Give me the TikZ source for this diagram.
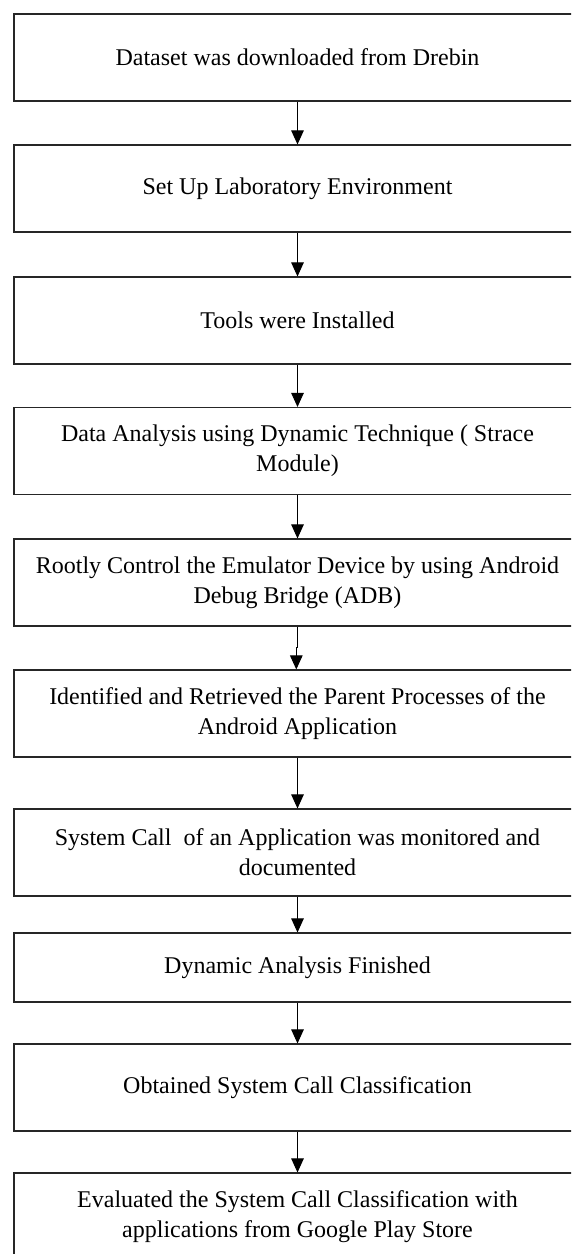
\documentclass[tikz,border=0pt]{standalone}
\usepackage{fontspec}
\setmainfont{Liberation Serif}
\usetikzlibrary{arrows.meta}
\begin{document}
\begin{tikzpicture}[x=1pt,y=-1pt,
  stepbox/.style={draw=black!85,line width=1.1pt,rectangle,minimum width=567pt,minimum height=87pt,align=center,inner sep=0pt,font=\fontsize{24}{30}\selectfont},
  flow/.style={draw=black,line width=1pt,-{Triangle[length=14pt,width=12.5pt]}}]
\useasboundingbox (0,0) rectangle (571,1254);
\clip (0,0) rectangle (571,1254);
\node[stepbox] (b1) at (297.5,57.5) {Dataset was downloaded from Drebin};
\node[stepbox] (b2) at (297.5,188.5) {Set Up Laboratory Environment};
\node[stepbox] (b3) at (297.5,320.5) {Tools were Installed};
\node[stepbox] (b4) at (297.5,451) {Data Analysis using Dynamic Technique ( Strace\\Module)};
\node[stepbox] (b5) at (297.5,582.5) {Rootly Control the Emulator Device by using Android\\Debug Bridge (ADB)};
\node[stepbox] (b6) at (297.5,713.5) {Identified and Retrieved the Parent Processes of the\\Android Application};
\node[stepbox] (b7) at (297.5,852.5) {System Call\ \ of an Application was monitored and\\documented};
\node[stepbox,minimum height=69pt] (b8) at (297.5,967.5) {Dynamic Analysis Finished};
\node[stepbox] (b9) at (297.5,1087.5) {Obtained System Call Classification};
\node[stepbox] (b10) at (297.5,1216.5) {Evaluated the System Call Classification with\\applications from Google Play Store};
\coordinate (j1) at (297.5,647);
\coordinate (j2) at (296.3,647);
\draw[flow] (b1) -- (b2);
\draw[flow] (b2) -- (b3);
\draw[flow] (b3) -- (b4);
\draw[flow] (b4) -- (b5);
\draw[flow] (b5.south) -- (j1) -- (j2) -- (j2 |- b6.north);
\draw[flow] (b6) -- (b7);
\draw[flow] (b7) -- (b8);
\draw[flow] (b8) -- (b9);
\draw[flow] (b9) -- (b10);
\end{tikzpicture}
\end{document}
